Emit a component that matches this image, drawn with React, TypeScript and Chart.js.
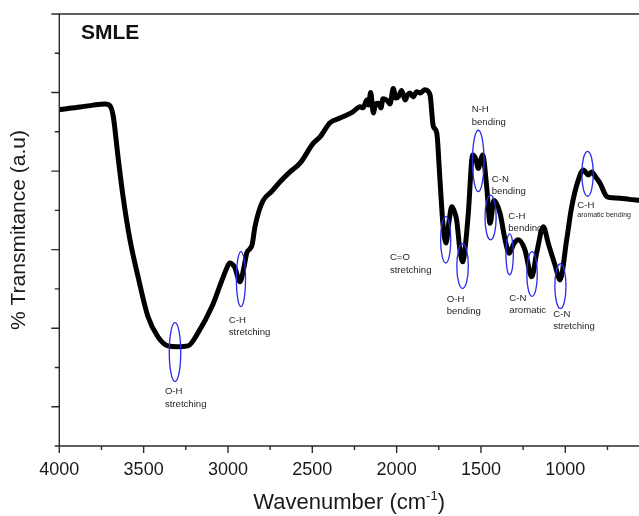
import { useEffect, useRef } from 'react';
import { Chart, registerables } from 'chart.js';

Chart.register(...registerables);

// FTIR spectrum of SMLE: wavenumber (cm^-1) vs. transmittance (arbitrary units)
const WAVENUMBERS = [
  4000, 3940, 3877, 3800, 3729, 3699, 3680, 3652, 3622, 3581, 3533, 3474, 3415, 3356, 3300,
  3237, 3178, 3095, 3035, 3010, 2990, 2960, 2929, 2905, 2889, 2870, 2857, 2840, 2820, 2790,
  2741, 2691, 2632, 2573, 2494, 2454, 2395, 2336, 2259, 2217, 2199, 2177, 2167, 2154, 2138,
  2125, 2109, 2093, 2081, 2059, 2039, 2020, 2004, 1990, 1970, 1950, 1935, 1921, 1903, 1881,
  1861, 1832, 1802, 1783, 1762, 1743, 1725, 1707, 1690, 1673, 1660, 1644, 1625, 1608, 1590,
  1575, 1549, 1530, 1516, 1500, 1490, 1466, 1446, 1423, 1387, 1357, 1332, 1305, 1279, 1239,
  1199, 1170, 1130, 1101, 1061, 1031, 992, 962, 923, 893, 864, 844, 820, 794, 754,
  720, 675, 620, 563,
];

const TRANSMITTANCE = [
  8.56, 8.6, 8.63, 8.68, 8.71, 8.66, 8.39, 7.37, 6.35, 5.25, 4.31, 3.29, 2.78, 2.55, 2.53,
  2.55, 2.88, 3.55, 4.23, 4.5, 4.66, 4.55, 4.18, 4.55, 4.91, 5.02, 5.12, 5.58, 5.93, 6.26,
  6.48, 6.73, 6.98, 7.2, 7.71, 7.87, 8.23, 8.35, 8.51, 8.64, 8.61, 8.81, 8.68, 9.0, 8.48,
  8.71, 8.73, 8.61, 8.84, 8.81, 8.71, 9.1, 8.86, 8.89, 9.05, 8.81, 8.94, 8.99, 8.89, 9.02,
  8.99, 9.07, 8.94, 8.15, 7.97, 6.77, 5.63, 5.17, 5.7, 6.09, 6.0, 5.75, 5.0, 4.69, 5.2,
  5.93, 7.41, 7.3, 7.07, 7.3, 7.41, 6.6, 5.67, 6.26, 5.93, 5.25, 4.91, 5.15, 5.25, 4.99,
  4.31, 4.91, 5.58, 5.16, 4.61, 4.23, 5.25, 6.09, 6.77, 7.03, 6.9, 6.98, 6.85, 6.69, 6.35,
  6.32, 6.31, 6.28, 6.26,
];

// Axis ticks
const X_MAJOR = [4000, 3500, 3000, 2500, 2000, 1500, 1000];
const X_MINOR = [3750, 3250, 2750, 2250, 1750, 1250, 750];
const Y_MAJOR = [1, 3, 5, 7, 9, 11];
const Y_MINOR = [0, 2, 4, 6, 8, 10];

// Band assignments: encircled region (centre and half-extent) and label anchor
const BAND_LABELS = [
  ['O-H', 'stretching'],
  ['C-H', 'stretching'],
  ['C=O', 'stretching'],
  ['O-H', 'bending'],
  ['N-H', 'bending'],
  ['C-N', 'bending'],
  ['C-H', 'bending'],
  ['C-N', 'aromatic'],
  ['C-N', 'stretching'],
  ['C-H', 'aromatic bending'],
];
const BAND_WN = [3314, 2923, 1709, 1609, 1516, 1443, 1330, 1197, 1029, 868];
const BAND_T = [2.39, 4.25, 5.25, 4.58, 7.26, 5.82, 4.88, 4.38, 4.07, 6.93];
const BAND_HALF_WN = [34, 27, 30, 34, 34, 33, 22, 31, 33, 34];
const BAND_HALF_T = [0.75, 0.7, 0.59, 0.57, 0.78, 0.57, 0.52, 0.57, 0.57, 0.57];
const LABEL_WN = [3374, 2995, 2040, 1703, 1555, 1436, 1338, 1332, 1071, 929];
const LABEL_T = [1.38, 3.21, 4.8, 3.74, 8.57, 6.8, 5.86, 3.76, 3.36, 6.14];

const FONT = "'Liberation Sans', Arial, Helvetica, sans-serif";
const AXIS_COLOR = '#2b2b2b';
const LABEL_COLOR = '#262626';
const ELLIPSE_COLOR = '#2a2ae8';
const LABEL_SIZE = 9.6;
const LABEL_SECOND_SIZE = [9.6, 9.6, 9.6, 9.6, 9.6, 9.6, 9.6, 9.6, 9.6, 7];

const annotationsUnder = {
  id: 'annotationsUnder',
  beforeDatasetsDraw(chart: any) {
    const { ctx, scales } = chart;
    const x = scales.x;
    const y = scales.y;
    ctx.save();
    ctx.fillStyle = LABEL_COLOR;
    ctx.textAlign = 'left';
    ctx.textBaseline = 'middle';
    BAND_LABELS.forEach((lines, i) => {
      const px = x.getPixelForValue(LABEL_WN[i]);
      const py = y.getPixelForValue(LABEL_T[i]);
      ctx.font = `${LABEL_SIZE}px ${FONT}`;
      ctx.fillText(lines[0], px, py);
      const small = LABEL_SECOND_SIZE[i];
      ctx.font = `${small}px ${FONT}`;
      ctx.fillText(lines[1], px, py + (small < LABEL_SIZE ? 10 : 12.5));
    });
    ctx.restore();
  },
};

const annotationsOver = {
  id: 'annotationsOver',
  afterDatasetsDraw(chart: any) {
    const { ctx, scales } = chart;
    const x = scales.x;
    const y = scales.y;
    ctx.save();
    ctx.strokeStyle = ELLIPSE_COLOR;
    ctx.lineWidth = 1.3;
    BAND_WN.forEach((wn, i) => {
      const cx = x.getPixelForValue(wn);
      const cy = y.getPixelForValue(BAND_T[i]);
      const rx = Math.abs(x.getPixelForValue(wn + BAND_HALF_WN[i]) - cx);
      const ry = Math.abs(y.getPixelForValue(BAND_T[i] + BAND_HALF_T[i]) - cy);
      ctx.beginPath();
      ctx.ellipse(cx, cy, rx, ry, 0, 0, Math.PI * 2);
      ctx.stroke();
    });
    ctx.restore();
  },
};

const frame = {
  id: 'frame',
  afterDraw(chart: any) {
    const { ctx, chartArea, scales } = chart;
    const x = scales.x;
    const y = scales.y;
    const { left, right, top, bottom } = chartArea;
    ctx.save();
    ctx.strokeStyle = AXIS_COLOR;
    ctx.lineWidth = 1.4;
    ctx.lineCap = 'butt';
    ctx.beginPath();
    // left axis, bottom axis, top border
    ctx.moveTo(left, top);
    ctx.lineTo(left, bottom);
    ctx.moveTo(left, bottom);
    ctx.lineTo(right, bottom);
    ctx.moveTo(left, top);
    ctx.lineTo(right, top);
    Y_MAJOR.forEach((v) => {
      const py = y.getPixelForValue(v);
      ctx.moveTo(left - 8, py);
      ctx.lineTo(left, py);
    });
    Y_MINOR.forEach((v) => {
      const py = y.getPixelForValue(v);
      ctx.moveTo(left - 4.5, py);
      ctx.lineTo(left, py);
    });
    X_MAJOR.forEach((v) => {
      const px = x.getPixelForValue(v);
      ctx.moveTo(px, bottom);
      ctx.lineTo(px, bottom + 7);
    });
    X_MINOR.forEach((v) => {
      const px = x.getPixelForValue(v);
      ctx.moveTo(px, bottom);
      ctx.lineTo(px, bottom + 4);
    });
    ctx.stroke();

    // sample name
    ctx.fillStyle = '#111';
    ctx.font = `bold 21px ${FONT}`;
    ctx.textAlign = 'left';
    ctx.textBaseline = 'alphabetic';
    ctx.fillText('SMLE', 81, 38.5);

    // y-axis title
    ctx.save();
    ctx.font = `21px ${FONT}`;
    ctx.fillStyle = '#1a1a1a';
    ctx.textAlign = 'center';
    ctx.textBaseline = 'middle';
    ctx.translate(19, (top + bottom) / 2);
    ctx.rotate(-Math.PI / 2);
    ctx.fillText('% Transmitance (a.u)', 0, 0);
    ctx.restore();

    // x-axis title with superscript unit
    const main = 'Wavenumber (cm';
    const sup = '-1';
    const close = ')';
    ctx.fillStyle = '#1a1a1a';
    ctx.textBaseline = 'alphabetic';
    ctx.font = `22px ${FONT}`;
    const wMain = ctx.measureText(main).width;
    const wClose = ctx.measureText(close).width;
    ctx.font = `13px ${FONT}`;
    const wSup = ctx.measureText(sup).width;
    const total = wMain + wSup + wClose;
    let sx = (left + right) / 2 - total / 2;
    const base = 509;
    ctx.font = `22px ${FONT}`;
    ctx.fillText(main, sx, base);
    sx += wMain;
    ctx.font = `13px ${FONT}`;
    ctx.fillText(sup, sx, base - 9);
    sx += wSup;
    ctx.font = `22px ${FONT}`;
    ctx.fillText(close, sx, base);
    ctx.restore();
  },
};

export default function App() {
  const canvasRef = useRef<HTMLCanvasElement | null>(null);

  useEffect(() => {
    if (!canvasRef.current) return;
    const points = WAVENUMBERS.map((wn, i) => ({ x: wn, y: TRANSMITTANCE[i] }));
    const chart = new Chart(canvasRef.current, {
      type: 'line',
      data: {
        datasets: [
          {
            data: points,
            borderColor: '#000',
            borderWidth: 5,
            borderJoinStyle: 'round',
            borderCapStyle: 'round',
            pointRadius: 0,
            fill: false,
            cubicInterpolationMode: 'monotone',
          },
        ],
      },
      options: {
        responsive: false,
        animation: false,
        layout: { padding: { top: 14, left: 0, right: 0, bottom: 0 } },
        plugins: {
          legend: { display: false },
          tooltip: { enabled: false },
          title: { display: false },
        },
        scales: {
          x: {
            type: 'linear',
            reverse: true,
            min: 563,
            max: 4000,
            grid: { display: false, drawTicks: false },
            border: { display: false },
            afterBuildTicks: (scale: any) => {
              scale.ticks = X_MAJOR.map((v) => ({ value: v }));
            },
            afterFit: (scale: any) => {
              scale.height = 70;
            },
            ticks: {
              color: '#1a1a1a',
              padding: 13,
              maxRotation: 0,
              autoSkip: false,
              font: { family: FONT, size: 18 },
              callback: (v: any) => String(v),
            },
          },
          y: {
            type: 'linear',
            min: 0,
            max: 11,
            grid: { display: false, drawTicks: false },
            border: { display: false },
            ticks: { display: false },
            afterFit: (scale: any) => {
              scale.width = 59.3;
            },
          },
        },
      },
      plugins: [annotationsUnder, annotationsOver, frame],
    });
    return () => chart.destroy();
  }, []);

  return (
    <div style={{ position: 'absolute', left: 0, top: 0, width: 639, height: 516, background: '#fff' }}>
      <canvas ref={canvasRef} width={639} height={516} />
    </div>
  );
}
